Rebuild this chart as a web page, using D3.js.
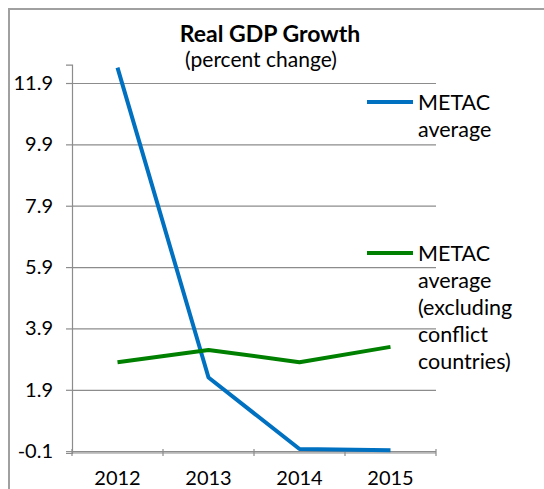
<!DOCTYPE html>
<html>
<head>
<meta charset="utf-8">
<script src="https://cdn.jsdelivr.net/npm/d3@7"></script>
<style>
  body { margin: 0; background: #fff; }
  svg { display: block; font-family: Lato, "Open Sans", sans-serif; }
</style>
</head>
<body>
<div id="chart"></div>
<script>
// data
var years = ["2012", "2013", "2014", "2015"];
var metacAverage = [12.4, 2.3, -0.03, -0.07];
var metacExConflict = [2.8, 3.2, 2.8, 3.3];
var yTicks = [-0.1, 1.9, 3.9, 5.9, 7.9, 9.9, 11.9];
var seriesNames = [["METAC", "average"], ["METAC", "average", "(excluding", "conflict", "countries)"]];
var seriesColors = ["#0070C0", "#008000"];

var W = 544, H = 489;
var svg = d3.select("#chart").append("svg").attr("width", W).attr("height", H);

// outer chart border (runs off the right and bottom edge)
svg.append("rect")
  .attr("x", 9).attr("y", 9).attr("width", 700).attr("height", 700)
  .attr("fill", "none").attr("stroke", "#a0a0a0").attr("stroke-width", 2);

var x = d3.scaleBand().domain(years).range([72, 436]).padding(0);
var y = d3.scaleLinear().domain([-0.16, 12.5]).range([453, 64.6]);

// gridlines
svg.append("g")
  .attr("transform", "translate(72,0)")
  .call(d3.axisLeft(y).tickValues(yTicks).tickSize(-364).tickFormat(""))
  .call(function(g) {
    g.select(".domain").remove();
    g.selectAll("line").attr("stroke", "#8c8c8c").attr("stroke-width", 1.2);
  });

// y axis
var fmt = d3.format(".1f");
svg.append("g")
  .attr("transform", "translate(72,0)")
  .call(d3.axisLeft(y).tickValues(yTicks).tickSize(6).tickPadding(13)
    .tickFormat(function(d) { return fmt(d).replace("\u2212", "-"); }))
  .call(function(g) {
    g.select(".domain").attr("stroke", "#8c8c8c").attr("stroke-width", 1.2);
    g.selectAll("line").attr("stroke", "#8c8c8c").attr("stroke-width", 1.2);
    g.selectAll("text").attr("font-size", 20).attr("fill", "#000").attr("font-family", "Lato, sans-serif");
  });

// x axis line
var y0 = y.range()[0];
svg.append("line")
  .attr("x1", x.range()[0]).attr("x2", x.range()[1])
  .attr("y1", y0).attr("y2", y0)
  .attr("stroke", "#8c8c8c").attr("stroke-width", 1.2);

// category boundary ticks
var bounds = years.map(function(d) { return x(d); }).concat([x.range()[1]]);
svg.selectAll(".xtick").data(bounds).enter().append("line")
  .attr("class", "xtick")
  .attr("x1", function(d) { return d; }).attr("x2", function(d) { return d; })
  .attr("y1", y0 - 4).attr("y2", y0 + 3)
  .attr("stroke", "#8c8c8c").attr("stroke-width", 1.2);

svg.selectAll(".xlab").data(years).enter().append("text")
  .attr("class", "xlab")
  .attr("x", function(d) { return x(d) + x.bandwidth() / 2; })
  .attr("y", 485)
  .attr("text-anchor", "middle")
  .attr("font-size", 20)
  .text(function(d) { return d; });

// lines
var line = d3.line()
  .x(function(d, i) { return x(years[i]) + x.bandwidth() / 2; })
  .y(function(d) { return y(d); });

[metacAverage, metacExConflict].forEach(function(s, k) {
  svg.append("path")
    .datum(s)
    .attr("d", line)
    .attr("fill", "none")
    .attr("stroke", seriesColors[k])
    .attr("stroke-width", 4)
    .attr("stroke-linejoin", "round");
});

// legend
var legendY = [102, 253];
seriesNames.forEach(function(lines, k) {
  var g = svg.append("g").attr("transform", "translate(367," + legendY[k] + ")");
  g.append("line").attr("x1", 0).attr("x2", 46).attr("y1", 0).attr("y2", 0)
    .attr("stroke", seriesColors[k]).attr("stroke-width", 4);
  var t = g.append("text").attr("x", 51).attr("y", 8).attr("font-size", 21.5);
  t.selectAll("tspan").data(lines).enter().append("tspan")
    .attr("x", 51)
    .attr("dy", function(d, i) { return i === 0 ? 0 : 27; })
    .text(function(d) { return d; });
});

// titles
svg.append("text")
  .attr("x", 270).attr("y", 42)
  .attr("text-anchor", "middle")
  .attr("font-weight", "bold")
  .attr("font-size", 23)
  .text("Real GDP Growth");

svg.append("text")
  .attr("x", 261).attr("y", 67)
  .attr("text-anchor", "middle")
  .attr("font-size", 21)
  .text("(percent change)");
</script>
</body>
</html>
